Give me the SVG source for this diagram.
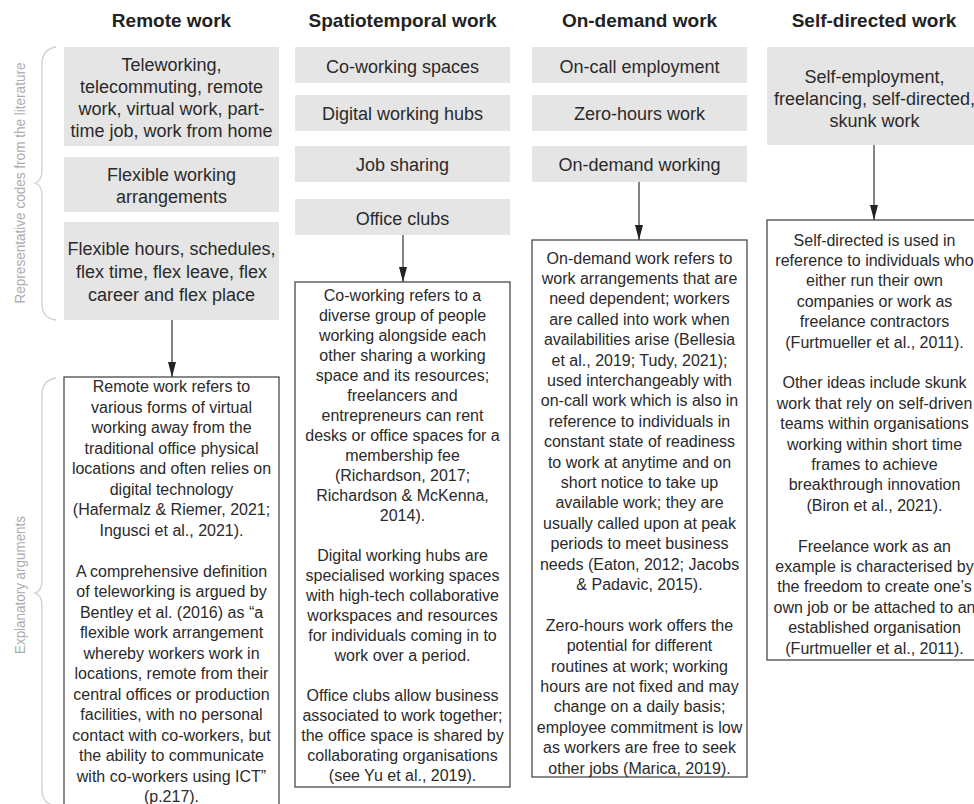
<svg xmlns="http://www.w3.org/2000/svg" width="974" height="804" viewBox="0 0 974 804">
<defs>
<style>
.title{font-family:"Liberation Sans",Arial,sans-serif;font-size:19px;font-weight:bold;fill:#222;text-anchor:middle}
.code{fill:#e5e5e5;stroke:none}
.ct{font-family:"Liberation Sans",Arial,sans-serif;font-size:18px;fill:#2a2a2a;text-anchor:middle}
.box{fill:#fff;stroke:#4a4a4a;stroke-width:1.3}
.bt{font-family:"Liberation Sans",Arial,sans-serif;font-size:16px;fill:#2a2a2a;text-anchor:middle}
.conn{stroke:#333;stroke-width:1.2;fill:none}
.brace{stroke:#cfcfcf;stroke-width:1.3;fill:none}
.side{font-family:"Liberation Sans",Arial,sans-serif;font-size:14px;fill:#ababab;text-anchor:middle}
</style>
<marker id="ah" markerUnits="userSpaceOnUse" markerWidth="16" markerHeight="9" refX="15" refY="4.5" orient="auto">
<path d="M0,0.5 L15,4.5 L0,8.5 z" fill="#222"/>
</marker>
</defs>
<rect width="974" height="804" fill="#fff"/>

<g id="side-labels">
<path class="brace" d="M56,47 Q42,49 42,64 L42,170 Q42,181 35,183 Q42,185 42,196 L42,304 Q42,318 56,320"/>
<text class="side" transform="translate(25,183) rotate(-90)" textLength="241" lengthAdjust="spacingAndGlyphs">Representative codes from the literature</text>
<path class="brace" d="M56,378 Q42,380 42,395 L42,580 Q42,591 35,593 Q42,595 42,606 L42,790 Q42,804 56,806"/>
<text class="side" transform="translate(25,585) rotate(-90)" textLength="138" lengthAdjust="spacingAndGlyphs">Explanatory arguments</text>
</g>

<g id="col-remote">
<text class="title" x="171.5" y="27">Remote work</text>
<g id="remote-code1"><rect class="code" x="64" y="47" width="215" height="99"/>
<text class="ct" y="71.3"><tspan x="171.5">Teleworking,</tspan><tspan x="171.5" dy="21.9">telecommuting, remote</tspan><tspan x="171.5" dy="21.9">work, virtual work, part-</tspan><tspan x="171.5" dy="21.9">time job, work from home</tspan></text></g>
<g id="remote-code2"><rect class="code" x="64" y="157" width="215" height="55"/>
<text class="ct" y="181.3"><tspan x="171.5">Flexible working</tspan><tspan x="171.5" dy="21.9">arrangements</tspan></text></g>
<g id="remote-code3"><rect class="code" x="64" y="222" width="215" height="98"/>
<text class="ct" y="254.6"><tspan x="171.5">Flexible hours, schedules,</tspan><tspan x="171.5" dy="23">flex time, flex leave, flex</tspan><tspan x="171.5" dy="23">career and flex place</tspan></text></g>
<g id="remote-expl"><rect class="box" x="64" y="377" width="215" height="432"/>
<text class="bt" y="392.1"><tspan x="171.5">Remote work refers to</tspan><tspan x="171.5" dy="20.5">various forms of virtual</tspan><tspan x="171.5" dy="20.5">working away from the</tspan><tspan x="171.5" dy="20.5">traditional office physical</tspan><tspan x="171.5" dy="20.5">locations and often relies on</tspan><tspan x="171.5" dy="20.5">digital technology</tspan><tspan x="171.5" dy="20.5">(Hafermalz &amp; Riemer, 2021;</tspan><tspan x="171.5" dy="20.5">Ingusci et al., 2021).</tspan><tspan x="171.5" dy="41">A comprehensive definition</tspan><tspan x="171.5" dy="20.5">of teleworking is argued by</tspan><tspan x="171.5" dy="20.5">Bentley et al. (2016) as “a</tspan><tspan x="171.5" dy="20.5">flexible work arrangement</tspan><tspan x="171.5" dy="20.5">whereby workers work in</tspan><tspan x="171.5" dy="20.5">locations, remote from their</tspan><tspan x="171.5" dy="20.5">central offices or production</tspan><tspan x="171.5" dy="20.5">facilities, with no personal</tspan><tspan x="171.5" dy="20.5">contact with co-workers, but</tspan><tspan x="171.5" dy="20.5">the ability to communicate</tspan><tspan x="171.5" dy="20.5">with co-workers using ICT”</tspan><tspan x="171.5" dy="20.5">(p.217).</tspan></text></g>
</g>

<g id="col-spatio">
<text class="title" x="402.5" y="27">Spatiotemporal work</text>
<g id="spatio-code1"><rect class="code" x="295" y="47" width="215" height="36"/>
<text class="ct" x="402.5" y="73">Co-working spaces</text></g>
<g id="spatio-code2"><rect class="code" x="295" y="95" width="215" height="36"/>
<text class="ct" x="402.5" y="120.3">Digital working hubs</text></g>
<g id="spatio-code3"><rect class="code" x="295" y="146" width="215" height="36"/>
<text class="ct" x="402.5" y="171.3">Job sharing</text></g>
<g id="spatio-code4"><rect class="code" x="295" y="199" width="215" height="36"/>
<text class="ct" x="402.5" y="224.6">Office clubs</text></g>
<g id="spatio-expl"><rect class="box" x="295" y="282" width="215" height="505"/>
<text class="bt" y="300.6"><tspan x="402.5">Co-working refers to a</tspan><tspan x="402.5" dy="20">diverse group of people</tspan><tspan x="402.5" dy="20">working alongside each</tspan><tspan x="402.5" dy="20">other sharing a working</tspan><tspan x="402.5" dy="20">space and its resources;</tspan><tspan x="402.5" dy="20">freelancers and</tspan><tspan x="402.5" dy="20">entrepreneurs can rent</tspan><tspan x="402.5" dy="20">desks or office spaces for a</tspan><tspan x="402.5" dy="20">membership fee</tspan><tspan x="402.5" dy="20">(Richardson, 2017;</tspan><tspan x="402.5" dy="20">Richardson &amp; McKenna,</tspan><tspan x="402.5" dy="20">2014).</tspan><tspan x="402.5" dy="40">Digital working hubs are</tspan><tspan x="402.5" dy="20">specialised working spaces</tspan><tspan x="402.5" dy="20">with high-tech collaborative</tspan><tspan x="402.5" dy="20">workspaces and resources</tspan><tspan x="402.5" dy="20">for individuals coming in to</tspan><tspan x="402.5" dy="20">work over a period.</tspan><tspan x="402.5" dy="40">Office clubs allow business</tspan><tspan x="402.5" dy="20">associated to work together;</tspan><tspan x="402.5" dy="20">the office space is shared by</tspan><tspan x="402.5" dy="20">collaborating organisations</tspan><tspan x="402.5" dy="20">(see Yu et al., 2019).</tspan></text></g>
</g>

<g id="col-ondemand">
<text class="title" x="639.5" y="27">On-demand work</text>
<g id="ondemand-code1"><rect class="code" x="532" y="47" width="215" height="36"/>
<text class="ct" x="639.5" y="73">On-call employment</text></g>
<g id="ondemand-code2"><rect class="code" x="532" y="95" width="215" height="36"/>
<text class="ct" x="639.5" y="119.6">Zero-hours work</text></g>
<g id="ondemand-code3"><rect class="code" x="532" y="146" width="215" height="36"/>
<text class="ct" x="639.5" y="171.3">On-demand working</text></g>
<g id="ondemand-expl"><rect class="box" x="532" y="240" width="215" height="537"/>
<text class="bt" y="263.6"><tspan x="639.5">On-demand work refers to</tspan><tspan x="639.5" dy="20.4">work arrangements that are</tspan><tspan x="639.5" dy="20.4">need dependent; workers</tspan><tspan x="639.5" dy="20.4">are called into work when</tspan><tspan x="639.5" dy="20.4">availabilities arise (Bellesia</tspan><tspan x="639.5" dy="20.4">et al., 2019; Tudy, 2021);</tspan><tspan x="639.5" dy="20.4">used interchangeably with</tspan><tspan x="639.5" dy="20.4">on-call work which is also in</tspan><tspan x="639.5" dy="20.4">reference to individuals in</tspan><tspan x="639.5" dy="20.4">constant state of readiness</tspan><tspan x="639.5" dy="20.4">to work at anytime and on</tspan><tspan x="639.5" dy="20.4">short notice to take up</tspan><tspan x="639.5" dy="20.4">available work; they are</tspan><tspan x="639.5" dy="20.4">usually called upon at peak</tspan><tspan x="639.5" dy="20.4">periods to meet business</tspan><tspan x="639.5" dy="20.4">needs (Eaton, 2012; Jacobs</tspan><tspan x="639.5" dy="20.4">&amp; Padavic, 2015).</tspan><tspan x="639.5" dy="40.8">Zero-hours work offers the</tspan><tspan x="639.5" dy="20.4">potential for different</tspan><tspan x="639.5" dy="20.4">routines at work; working</tspan><tspan x="639.5" dy="20.4">hours are not fixed and may</tspan><tspan x="639.5" dy="20.4">change on a daily basis;</tspan><tspan x="639.5" dy="20.4">employee commitment is low</tspan><tspan x="639.5" dy="20.4">as workers are free to seek</tspan><tspan x="639.5" dy="20.4">other jobs (Marica, 2019).</tspan></text></g>
</g>

<g id="col-self">
<text class="title" x="874" y="27">Self-directed work</text>
<g id="self-code1"><rect class="code" x="767" y="47" width="215" height="98"/>
<text class="ct" y="83"><tspan x="874.5">Self-employment,</tspan><tspan x="874.5" dy="22">freelancing, self-directed,</tspan><tspan x="874.5" dy="22">skunk work</tspan></text></g>
<g id="self-expl"><rect class="box" x="767" y="220" width="215" height="440"/>
<text class="bt" y="245.6"><tspan x="874.5">Self-directed is used in</tspan><tspan x="874.5" dy="20.4">reference to individuals who</tspan><tspan x="874.5" dy="20.4">either run their own</tspan><tspan x="874.5" dy="20.4">companies or work as</tspan><tspan x="874.5" dy="20.4">freelance contractors</tspan><tspan x="874.5" dy="20.4">(Furtmueller et al., 2011).</tspan><tspan x="874.5" dy="40.8">Other ideas include skunk</tspan><tspan x="874.5" dy="20.4">work that rely on self-driven</tspan><tspan x="874.5" dy="20.4">teams within organisations</tspan><tspan x="874.5" dy="20.4">working within short time</tspan><tspan x="874.5" dy="20.4">frames to achieve</tspan><tspan x="874.5" dy="20.4">breakthrough innovation</tspan><tspan x="874.5" dy="20.4">(Biron et al., 2021).</tspan><tspan x="874.5" dy="40.8">Freelance work as an</tspan><tspan x="874.5" dy="20.4">example is characterised by</tspan><tspan x="874.5" dy="20.4">the freedom to create one’s</tspan><tspan x="874.5" dy="20.4">own job or be attached to an</tspan><tspan x="874.5" dy="20.4">established organisation</tspan><tspan x="874.5" dy="20.4">(Furtmueller et al., 2011).</tspan></text></g>
</g>

<g id="connectors">
<line class="conn" x1="172" y1="320" x2="172" y2="377" marker-end="url(#ah)"/>
<line class="conn" x1="403" y1="235" x2="403" y2="282" marker-end="url(#ah)"/>
<line class="conn" x1="639" y1="182" x2="639" y2="240" marker-end="url(#ah)"/>
<line class="conn" x1="874" y1="145" x2="874" y2="220" marker-end="url(#ah)"/>
</g>
</svg>
